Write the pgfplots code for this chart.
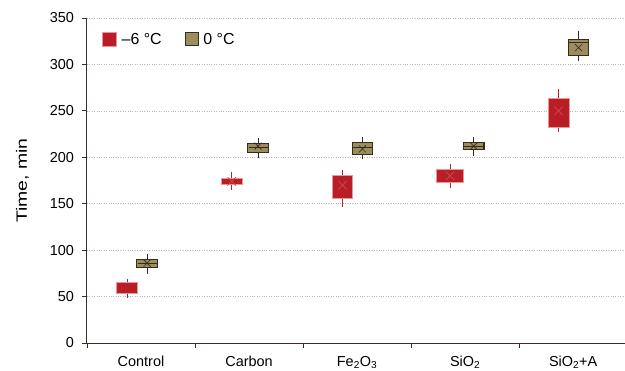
\documentclass[border=0pt]{standalone}
\usepackage{pgfplots}
\pgfplotsset{compat=1.18}
\usepackage{fontspec}
\setmainfont{Liberation Sans}
\newfontfamily\ylabfont[FakeStretch=1.3]{Liberation Sans}
\definecolor{cred}{RGB}{185,30,38}
\definecolor{credE}{RGB}{232,150,155}
\definecolor{colv}{RGB}{155,141,92}
\definecolor{colvE}{RGB}{52,44,32}
\definecolor{axc}{RGB}{60,45,38}
\pgfplotsset{
  rbox/.style={forget plot, draw=credE, fill=cred, line width=0.6bp, mark=none},
  obox/.style={forget plot, draw=colvE, fill=colv, line width=1.2bp, mark=none},
}
\begin{document}
\begin{tikzpicture}
\path[use as bounding box] (-87bp,-28bp) rectangle (538bp,343bp);
\begin{axis}[
  scale only axis, width=538bp, height=325bp,
  xmin=0, xmax=4.98, ymin=0, ymax=350,
  axis lines=left, axis line style={-, axc, line width=1bp},
  xtick={0,1,2,3,4}, xticklabels={},
  extra x ticks={0.5,1.5,2.5,3.5,4.5},
  extra x tick labels={Control, Carbon, Fe\textsubscript{2}O\textsubscript{3}, SiO\textsubscript{2}, SiO\textsubscript{2}+A},
  extra x tick style={major tick length=0pt, grid=none},
  ytick={0,50,...,350},
  tick align=outside, major tick length=4.5bp,
  tick style={axc, line width=0.8bp},
  ymajorgrids, grid style={dotted, black!28, line width=0.7bp},
  ticklabel style={font=\fontsize{14.5}{16}\selectfont},
  /pgf/number format/assume math mode=true,
  xticklabel style={yshift=-9.5bp},
  yticklabel style={xshift=-5bp},
  ylabel={\ylabfont\fontsize{15}{17}\selectfont Time, min},
  ylabel style={at={(axis description cs:-0.12,0.5)}, anchor=center},
  legend style={at={(rel axis cs:0,1)}, anchor=north west, xshift=12bp, yshift=-11bp,
    draw=none, fill=none, font=\fontsize{16}{18}\selectfont,
    /tikz/every even column/.append style={column sep=21bp}},
  legend columns=2,
  clip=false,
]
\addlegendimage{legend image code/.code={\draw[draw=credE, fill=cred, line width=0.6bp] (0bp,-7bp) rectangle (14bp,7bp); \path (17bp,0bp);}}
\addlegendentry{–6 °C}
\addlegendimage{legend image code/.code={\draw[draw=colvE, fill=colv, line width=1bp] (0bp,-6.5bp) rectangle (13bp,6.5bp); \path (16bp,0bp);}}
\addlegendentry{0 °C}
% whiskers (-6 C): (position, middle) with upper/lower extents to whisker ends
\addplot[forget plot, draw=none, mark=none,
  error bars/.cd, y dir=both, y explicit,
  error bar style={draw=cred, line width=0.8bp},
  error mark options={draw=cred, mark size=4bp, line width=0.8bp}]
  coordinates {
  (0.37,58) += (0,7) -= (0,5.5)
  (1.34,174) += (0,6) -= (0,5)
  (2.365,168) += (0,14) -= (0,17)
  (3.36,180) += (0,8) -= (0,8.5)
  (4.365,248) += (0,21) -= (0,16)
  };
% whiskers (0 C)
\addplot[forget plot, draw=none, mark=none,
  error bars/.cd, y dir=both, y explicit,
  error bar style={draw=colvE, line width=0.8bp},
  error mark options={draw=colvE, mark size=4bp, line width=0.8bp}]
  coordinates {
  (0.556,86) += (0,6) -= (0,7)
  (1.583,211) += (0,5) -= (0,7)
  (2.55,211) += (0,6) -= (0,9)
  (3.58,212) += (0,5) -= (0,6)
  (4.55,324) += (0,8) -= (0,16.5)
  };
% red means (mostly hidden by the boxes)
\addplot[forget plot, only marks, mark=x, mark size=6bp, mark options={draw=cred!80!white, line width=0.7bp}]
  coordinates {(1.34,174) (2.365,170) (3.36,180) (4.365,250)};
% boxes -6 C (lower quartile to upper quartile)
\addplot[rbox] coordinates {(0.275,53) (0.465,53) (0.465,65) (0.275,65)} -- cycle;
\addplot[rbox] coordinates {(1.245,171) (1.435,171) (1.435,177.5) (1.245,177.5)} -- cycle;
\addplot[rbox] coordinates {(2.27,156) (2.46,156) (2.46,181) (2.27,181)} -- cycle;
\addplot[rbox] coordinates {(3.235,173.5) (3.485,173.5) (3.485,187) (3.235,187)} -- cycle;
\addplot[rbox] coordinates {(4.27,232) (4.46,232) (4.46,264) (4.27,264)} -- cycle;
% boxes 0 C
\addplot[obox] coordinates {(0.461,81) (0.651,81) (0.651,90) (0.461,90)} -- cycle;
\addplot[obox] coordinates {(1.488,205.5) (1.678,205.5) (1.678,215) (1.488,215)} -- cycle;
\addplot[obox] coordinates {(2.455,203) (2.645,203) (2.645,215.5) (2.455,215.5)} -- cycle;
\addplot[obox] coordinates {(3.485,208) (3.675,208) (3.675,216) (3.485,216)} -- cycle;
\addplot[obox] coordinates {(4.455,310) (4.645,310) (4.645,327) (4.455,327)} -- cycle;
% medians 0 C
\addplot[forget plot, only marks, mark=-, mark size=9.5bp, mark options={draw=colvE, line width=1bp}]
  coordinates {(0.556,86) (1.583,211) (2.55,211) (3.58,212) (4.55,324)};
% means 0 C
\addplot[forget plot, only marks, mark=x, mark size=5bp, mark options={draw=colvE, line width=0.6bp}]
  coordinates {(0.556,86) (1.583,212) (2.55,209) (3.58,212) (4.55,318)};
\end{axis}
\end{tikzpicture}
\end{document}
